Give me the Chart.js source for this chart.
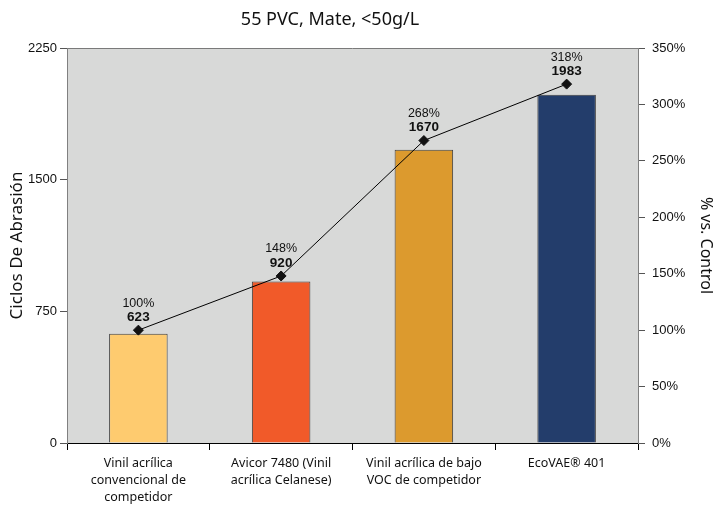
<!DOCTYPE html>
<html>
<head>
<meta charset="utf-8">
<script src="https://cdn.jsdelivr.net/npm/chart.js@4.4.1/dist/chart.umd.min.js"></script>
<style>
    html, body { margin: 0; padding: 0; background: #fff; }
</style>
</head>
<body>
<canvas id="myChart" width="715" height="508"></canvas>
<script>
const categories = [
    ['Vinil acrílica', 'convencional de', 'competidor'],
    ['Avicor 7480 (Vinil', 'acrílica Celanese)'],
    ['Vinil acrílica de bajo', 'VOC de competidor'],
    ['EcoVAE® 401']
];
const cycles = [623, 920, 1670, 1983];
const pctControl = [100, 148, 268, 318];
const cycleTicks = [0, 750, 1500, 2250];
const pctTicks = [0, 50, 100, 150, 200, 250, 300, 350];
const barColors = ['#fecb6f', '#f15a29', '#dc9a2e', '#233d6b'];

const titleText = '55 PVC, Mate, <50g/L';

// gray plot background + top frame line + title
const plotBg = {
    id: 'plotBg',
    beforeDraw(chart) {
        const { ctx, chartArea: a } = chart;
        ctx.save();
        ctx.fillStyle = '#d8d9d8';
        ctx.fillRect(a.left, a.top, a.right - a.left, a.bottom - a.top);
        ctx.strokeStyle = '#7a7a7a';
        ctx.lineWidth = 1;
        ctx.beginPath();
        ctx.moveTo(a.left, a.top + 0.5);
        ctx.lineTo(a.right, a.top + 0.5);
        ctx.stroke();
        ctx.fillStyle = '#111';
        ctx.font = '18px "Noto Sans"';
        ctx.textAlign = 'center';
        ctx.textBaseline = 'middle';
        ctx.fillText(titleText, 330, 20);
        ctx.restore();
    }
};

// percent + value labels above line points
const pointLabels = {
    id: 'pointLabels',
    afterDatasetsDraw(chart) {
        const { ctx } = chart;
        const meta = chart.getDatasetMeta(1);
        ctx.save();
        ctx.fillStyle = '#111';
        ctx.textAlign = 'center';
        ctx.textBaseline = 'middle';
        meta.data.forEach((pt, i) => {
            ctx.font = '12.5px "Liberation Sans"';
            ctx.fillText(pctControl[i] + '%', pt.x, pt.y - 27);
            ctx.font = 'bold 13.5px "Liberation Sans"';
            ctx.fillText(String(cycles[i]), pt.x, pt.y - 13);
        });
        ctx.restore();
    }
};

const ctx = document.getElementById('myChart');

new Chart(ctx, {
    data: {
        labels: categories,
        datasets: [{
            type: 'bar',
            label: 'Ciclos',
            data: cycles,
            yAxisID: 'y',
            backgroundColor: barColors,
            borderColor: '#3e3e3e',
            borderWidth: 1,
            barPercentage: 0.41,
            categoryPercentage: 1,
            order: 1
        }, {
            type: 'line',
            label: '% vs. Control',
            data: pctControl,
            yAxisID: 'y1',
            borderColor: '#000',
            borderWidth: 1,
            pointStyle: 'rectRot',
            pointRadius: 5,
            pointBackgroundColor: '#111',
            pointBorderColor: '#111',
            tension: 0,
            order: 0
        }]
    },
    options: {
        responsive: false,
        animation: false,
        layout: { padding: { top: 48, left: 0, right: 0, bottom: 0 } },
        scales: {
            x: {
                offset: true,
                grid: {
                    offset: true,
                    drawOnChartArea: false,
                    drawTicks: true,
                    tickLength: 7,
                    color: '#000'
                },
                border: { color: '#000', width: 1 },
                ticks: {
                    padding: 5,
                    color: '#111',
                    maxRotation: 0,
                    autoSkip: false,
                    font: { family: '"Noto Sans"', size: 12.5, lineHeight: 1.35 }
                },
                afterFit(scale) { scale.height = 65; }
            },
            y: {
                position: 'left',
                min: 0,
                max: 2250,
                afterBuildTicks(scale) { scale.ticks = cycleTicks.map(v => ({ value: v })); },
                grid: { drawOnChartArea: false, tickLength: 7, color: '#555' },
                border: { color: '#808080', width: 1 },
                ticks: {
                    padding: 3,
                    color: '#111',
                    font: { family: '"Liberation Sans"', size: 13 },
                    callback: function (value) { return String(value); }
                },
                title: {
                    display: true,
                    text: 'Ciclos De Abrasión',
                    color: '#111',
                    padding: { top: 7, bottom: 0 },
                    font: { family: '"Noto Sans"', size: 17 }
                },
                afterFit(scale) { scale.width = 67; }
            },
            y1: {
                position: 'right',
                min: 0,
                max: 350,
                afterBuildTicks(scale) { scale.ticks = pctTicks.map(v => ({ value: v })); },
                grid: { drawOnChartArea: false, tickLength: 7, color: '#555' },
                border: { color: '#808080', width: 1 },
                ticks: {
                    padding: 7,
                    color: '#111',
                    font: { family: '"Liberation Sans"', size: 13 },
                    callback: function (value) { return value + '%'; }
                },
                title: {
                    display: true,
                    text: '% vs. Control',
                    color: '#111',
                    padding: { top: 0, bottom: 0 },
                    font: { family: '"Noto Sans"', size: 16 }
                },
                afterFit(scale) { scale.width = 77; }
            }
        },
        plugins: {
            legend: { display: false },
            tooltip: { enabled: false },
            title: { display: false }
        }
    },
    plugins: [plotBg, pointLabels]
});
</script>
</body>
</html>
